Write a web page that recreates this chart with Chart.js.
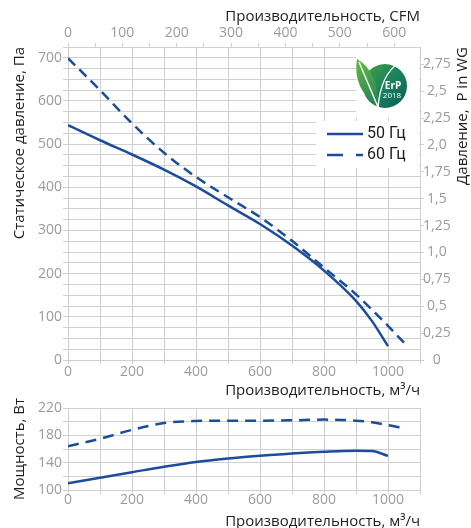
<!DOCTYPE html>
<html>
<head>
<meta charset="utf-8">
<script src="https://cdn.jsdelivr.net/npm/chart.js@4.4.1/dist/chart.umd.min.js"></script>
<style>
  html, body { margin: 0; padding: 0; background: #fff; overflow: hidden; }
  #wrap { position: relative; width: 471px; height: 528px; }
  #pressure { position: absolute; left: 0; top: 0; }
  #power { position: absolute; left: 0; top: 395px; }
</style>
</head>
<body>
<div id="wrap">
  <canvas id="pressure" width="471" height="400"></canvas>
  <canvas id="power" width="471" height="138"></canvas>
</div>
<script>
// Flow points, m3/h
const flow50 = [0, 100, 200, 300, 400, 500, 600, 700, 800, 900, 950, 1000];
const flow60 = [0, 100, 200, 300, 400, 500, 600, 700, 800, 900, 1000, 1050];
const powFlow50 = [0, 100, 200, 300, 400, 500, 600, 700, 800, 900, 950, 1000];
const powFlow60 = [0, 100, 200, 300, 400, 500, 600, 700, 800, 900, 950, 1000, 1050];

// Static pressure, Pa
const press50 = [544, 509, 476, 441, 402, 358, 315, 265, 207, 137, 90, 32];
const press60 = [699, 625, 548, 480, 424, 377, 331, 276, 214, 152, 79, 40];

// Power, W
const power50 = [110, 118, 126, 134, 141, 146, 150, 153.5, 156, 157.5, 157, 150];
const power60 = [164, 175, 188, 198, 201, 201.5, 201.5, 202, 203, 201.5, 199, 195, 190];

const seriesNames = ['50 Гц', '60 Гц'];

const FLOW_MAX = 1100;
const PRESS_MAX = 725;
const M3H_PER_CFM = 1.699;
const PA_PER_INWG = 249.09;

const FONT = "'Open Sans', 'Noto Sans', sans-serif";
const BLUE = '#1c4d9b';
const GRID = '#d0d0d0';
const TICK = '#9b9b9b';
const TITLE = '#1e1e1e';

const pts = (xs, ys) => xs.map((x, i) => ({ x: x, y: ys[i] }));
// true when v sits on a multiple of step (ticks come back with float noise)
const onStep = (v, step) => Math.abs(v / step - Math.round(v / step)) < 1e-6;
const comma = v => {
    if (!onStep(v, 0.25)) return '';
    if (Math.abs(v) < 1e-9) return '0';
    const s = onStep(v, 0.5) ? v.toFixed(1) : v.toFixed(2);
    return s.replace('.', ',');
};

function line(label, data, dashed, dash) {
    return {
        label: label,
        data: data,
        borderColor: BLUE,
        borderWidth: 2.5,
        borderDash: dashed ? dash : [],
        pointRadius: 0,
        cubicInterpolationMode: 'monotone',
        fill: false
    };
}

function gridOpts(onArea, tickLength) {
    return {
        color: GRID,
        lineWidth: 1,
        drawOnChartArea: onArea,
        tickLength: tickLength,
        tickColor: GRID
    };
}

// white boxes, ErP badge and legend inside the pressure plot
const overlay = {
    id: 'overlay',
    afterDatasetsDraw(chart) {
        const ctx = chart.ctx;
        ctx.save();
        ctx.fillStyle = '#fff';
        ctx.fillRect(356, 48, 63, 70);
        ctx.fillRect(316, 121, 103, 47);

        drawBadge(ctx, 385, 86, 22);

        // legend
        ctx.strokeStyle = BLUE;
        ctx.lineWidth = 2.5;
        ctx.setLineDash([]);
        ctx.beginPath();
        ctx.moveTo(327, 134);
        ctx.lineTo(363, 134);
        ctx.stroke();
        ctx.setLineDash([16, 13]);
        ctx.beginPath();
        ctx.moveTo(327, 155);
        ctx.lineTo(363, 155);
        ctx.stroke();
        ctx.setLineDash([]);
        ctx.fillStyle = TITLE;
        ctx.font = "16px 'Liberation Sans Narrow', 'Roboto', sans-serif";
        ctx.textBaseline = 'middle';
        ctx.textAlign = 'left';
        ctx.fillText(seriesNames[0], 367, 134);
        ctx.fillText(seriesNames[1], 367, 155);

        // right axis title reads bottom to top
        ctx.translate(463, 47);
        ctx.rotate(-Math.PI / 2);
        ctx.font = '15px ' + FONT;
        ctx.textAlign = 'right';
        ctx.fillText('Давление,  P in WG', 0, 0);
        ctx.restore();
    }
};

function drawBadge(ctx, cx, cy, r) {
    const g = ctx.createLinearGradient(cx - r, cy - r, cx + r, cy + r);
    g.addColorStop(0, '#43a047');
    g.addColorStop(0.55, '#17805c');
    g.addColorStop(1, '#0a5a58');
    ctx.fillStyle = g;
    ctx.beginPath();
    ctx.arc(cx, cy, r, 0, Math.PI * 2);
    ctx.fill();

    // big leaf sticking out to the upper left
    const bx = cx - 7, by = cy + r - 1;
    const lg = ctx.createLinearGradient(cx - r, cy - r, cx, cy + r);
    lg.addColorStop(0, '#5cb247');
    lg.addColorStop(1, '#1b7a58');
    ctx.fillStyle = lg;
    ctx.beginPath();
    ctx.moveTo(bx, by);
    ctx.quadraticCurveTo(cx - 33, cy + 2, cx - 28, cy - 27);
    ctx.quadraticCurveTo(cx - 6, cy - 14, bx, by);
    ctx.fill();

    ctx.strokeStyle = '#fff';
    ctx.lineWidth = 1.4;
    ctx.beginPath();
    ctx.moveTo(bx, by);
    ctx.quadraticCurveTo(cx - 18, cy - 5, cx - 26, cy - 24);
    ctx.stroke();
    ctx.beginPath();
    ctx.moveTo(bx, by);
    ctx.quadraticCurveTo(cx - 4, cy - 12, cx + 14, cy - 23);
    ctx.stroke();

    ctx.fillStyle = '#fff';
    ctx.textAlign = 'center';
    ctx.textBaseline = 'middle';
    ctx.font = "bold 10px 'Open Sans', sans-serif";
    ctx.fillText('ErP', cx + 8, cy);
    ctx.font = "8px 'Open Sans', sans-serif";
    ctx.fillText('2018', cx + 7, cy + 10);
}

new Chart(document.getElementById('pressure'), {
    type: 'line',
    data: {
        datasets: [
            line(seriesNames[0], pts(flow50, press50), false),
            line(seriesNames[1], pts(flow60, press60), true, [10, 6])
        ]
    },
    options: {
        responsive: false,
        animation: false,
        layout: { padding: 0 },
        plugins: { legend: { display: false }, tooltip: { enabled: false } },
        scales: {
            x: {
                type: 'linear',
                position: 'bottom',
                min: 0,
                max: FLOW_MAX,
                afterFit: s => { s.height = 40; },
                grid: gridOpts(true, 4),
                border: { color: GRID },
                ticks: {
                    stepSize: 100,
                    padding: 0,
                    color: TICK,
                    font: { family: FONT, size: 14 },
                    maxRotation: 0,
                    autoSkip: false,
                    callback: v => (onStep(v, 200) ? Math.round(v) : '')
                },
                title: {
                    display: true,
                    text: 'Производительность, м³/ч',
                    align: 'end',
                    color: TITLE,
                    font: { family: FONT, size: 15 },
                    padding: { top: 0, bottom: 0 }
                }
            },
            cfm: {
                type: 'linear',
                position: 'top',
                min: 0,
                max: FLOW_MAX / M3H_PER_CFM,
                afterFit: s => { s.height = 47; },
                grid: gridOpts(false, 4),
                border: { color: GRID },
                ticks: {
                    stepSize: 50,
                    includeBounds: false,
                    padding: 2,
                    color: TICK,
                    font: { family: FONT, size: 14 },
                    maxRotation: 0,
                    autoSkip: false,
                    callback: v => (onStep(v, 100) ? Math.round(v) : '')
                },
                title: {
                    display: true,
                    text: 'Производительность, CFM',
                    align: 'end',
                    color: TITLE,
                    font: { family: FONT, size: 15 },
                    padding: { top: 8, bottom: 0 }
                }
            },
            y: {
                type: 'linear',
                position: 'left',
                min: 0,
                max: PRESS_MAX,
                afterFit: s => { s.width = 68; },
                grid: gridOpts(true, 5),
                border: { color: GRID },
                ticks: {
                    stepSize: 25,
                    padding: 1,
                    color: TICK,
                    font: { family: FONT, size: 14 },
                    autoSkip: false,
                    callback: v => (onStep(v, 100) ? Math.round(v) : '')
                },
                title: {
                    display: true,
                    text: 'Статическое давление, Па',
                    align: 'end',
                    color: TITLE,
                    font: { family: FONT, size: 15 },
                    padding: { top: 11, bottom: 0 }
                }
            },
            inwg: {
                type: 'linear',
                position: 'right',
                min: 0,
                max: PRESS_MAX / PA_PER_INWG,
                afterFit: s => { s.width = 51; },
                grid: gridOpts(false, 4),
                border: { color: GRID },
                ticks: {
                    stepSize: 0.25,
                    includeBounds: false,
                    padding: -1,
                    crossAlign: 'center',
                    color: TICK,
                    font: { family: FONT, size: 14 },
                    autoSkip: false,
                    callback: v => comma(v)
                }
            }
        }
    },
    plugins: [overlay]
});

new Chart(document.getElementById('power'), {
    type: 'line',
    data: {
        datasets: [
            line(seriesNames[0], pts(powFlow50, power50), false),
            line(seriesNames[1], pts(powFlow60, power60), true, [11, 7])
        ]
    },
    options: {
        responsive: false,
        animation: false,
        layout: { padding: { top: 13, right: 51, left: 0, bottom: 0 } },
        plugins: { legend: { display: false }, tooltip: { enabled: false } },
        scales: {
            x: {
                type: 'linear',
                position: 'bottom',
                min: 0,
                max: FLOW_MAX,
                afterFit: s => { s.height = 43; },
                grid: gridOpts(true, 4),
                border: { color: GRID },
                ticks: {
                    stepSize: 100,
                    padding: -2,
                    color: TICK,
                    font: { family: FONT, size: 14 },
                    maxRotation: 0,
                    autoSkip: false,
                    callback: v => (onStep(v, 200) ? Math.round(v) : '')
                },
                title: {
                    display: true,
                    text: 'Производительность, м³/ч',
                    align: 'end',
                    color: TITLE,
                    font: { family: FONT, size: 15 },
                    padding: { top: 0, bottom: 2 }
                }
            },
            y: {
                type: 'linear',
                position: 'left',
                min: 100,
                max: 220,
                afterFit: s => { s.width = 68; },
                grid: gridOpts(true, 5),
                border: { color: GRID },
                ticks: {
                    stepSize: 20,
                    padding: 1,
                    color: TICK,
                    font: { family: FONT, size: 14 },
                    autoSkip: false,
                    callback: v => (onStep(v - 100, 40) ? Math.round(v) : '')
                },
                title: {
                    display: true,
                    text: 'Мощность, Вт',
                    align: 'center',
                    color: TITLE,
                    font: { family: FONT, size: 15 },
                    padding: { top: 11, bottom: 0 }
                }
            }
        }
    }
});
</script>
</body>
</html>
